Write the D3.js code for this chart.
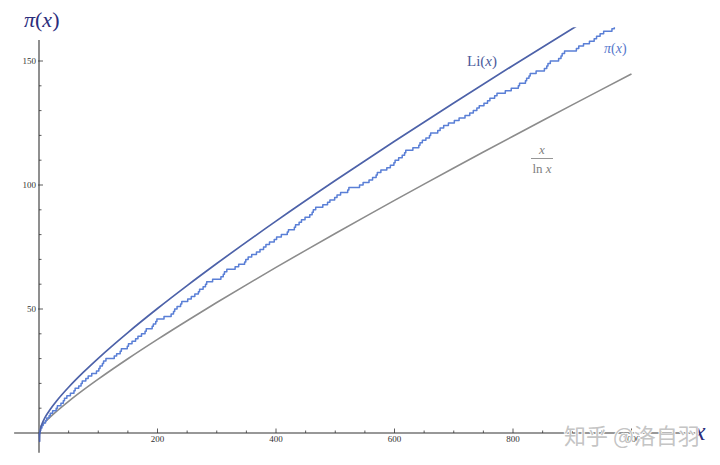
<!DOCTYPE html>
<html>
<head>
<meta charset="utf-8">
<script src="https://cdn.jsdelivr.net/npm/d3@7"></script>
<style>
    html, body { margin: 0; padding: 0; background: #fff; }
    #chart { width: 720px; height: 465px; }
</style>
</head>
<body>
<div id="chart"></div>
<script>
// primes up to 971 -> pi(x) staircase
const primes = [
    2, 3, 5, 7, 11, 13, 17, 19, 23, 29, 31, 37, 41, 43, 47, 53, 59, 61, 67, 71, 73, 79, 83, 89, 97,
    101, 103, 107, 109, 113, 127, 131, 137, 139, 149, 151, 157, 163, 167, 173, 179, 181, 191, 193, 197, 199,
    211, 223, 227, 229, 233, 239, 241, 251, 257, 263, 269, 271, 277, 281, 283, 293,
    307, 311, 313, 317, 331, 337, 347, 349, 353, 359, 367, 373, 379, 383, 389, 397,
    401, 409, 419, 421, 431, 433, 439, 443, 449, 457, 461, 463, 467, 479, 487, 491, 499,
    503, 509, 521, 523, 541, 547, 557, 563, 569, 571, 577, 587, 593, 599,
    601, 607, 613, 617, 619, 631, 641, 643, 647, 653, 659, 661, 673, 677, 683, 691,
    701, 709, 719, 727, 733, 739, 743, 751, 757, 761, 769, 773, 787, 797,
    809, 811, 821, 823, 827, 829, 839, 853, 857, 859, 863, 877, 881, 883, 887,
    907, 911, 919, 929, 937, 941, 947, 953, 967, 971, 977, 983, 991, 997
];

// Li(x) samples
const liX = [0, 0.5, 0.9, 0.95, 0.98, 1.02, 1.05, 1.1, 1.2, 1.5, 2, 3, 5, 10, 20, 30, 50, 75, 100,
             150, 200, 250, 300, 400, 500, 600, 700, 800, 900, 1000];
const liY = [0, -0.38, -1.78, -2.44, -3.34, -3.32, -2.39, -1.68, -0.93, 0.13, 1.05, 2.16, 3.63, 6.17,
             9.91, 13.02, 18.46, 24.53, 30.13, 40.50, 50.19, 59.43, 68.33, 85.42, 101.79, 117.65,
             133.09, 148.20, 163.02, 177.61];

// x / ln x samples
const xlnX = [2, 3, 5, 10, 20, 30, 50, 75, 100, 150, 200, 250, 300, 350, 400, 450, 500, 550, 600,
              650, 700, 750, 800, 850, 900, 950, 1000];
const xlnY = [2.89, 2.73, 3.11, 4.34, 6.68, 8.82, 12.78, 17.37, 21.71, 29.94, 37.75, 45.28, 52.60,
              59.75, 66.76, 73.66, 80.46, 87.16, 93.80, 100.36, 106.85, 113.29, 119.68, 126.02,
              132.31, 138.56, 144.77];

const xTicks = [200, 400, 600, 800, 1000];
const yTicks = [50, 100, 150];

// Specify the chart's dimensions.
const Width = 720, Height = 465;

const svg =
    d3.select("#chart")
        .append("svg")
            .attr("width", Width)
            .attr("height", Height);

const xScale = d3.scaleLinear().domain([0, 1000]).range([39, 631.5]);
const yScale = d3.scaleLinear().domain([0, 150]).range([433, 61]);

const serif = "'Liberation Serif', 'DejaVu Serif', serif";
const axisColor = "#333";

// Axis lines (Mathematica style, through the origin)
svg.append("line")
    .attr("x1", xScale(-42)).attr("x2", xScale(1108))
    .attr("y1", yScale(0)).attr("y2", yScale(0))
    .attr("stroke", axisColor).attr("stroke-width", 1.1);
svg.append("line")
    .attr("x1", xScale(0)).attr("x2", xScale(0))
    .attr("y1", yScale(158.5)).attr("y2", yScale(-8))
    .attr("stroke", axisColor).attr("stroke-width", 1.1);

// Add X axis ticks
const xAxis = svg.append("g").attr("transform", `translate(0, ${yScale(0)})`);
xAxis.selectAll("line.minor")
    .data(d3.range(50, 1101, 50).filter(v => v % 200 !== 0))
    .join("line")
        .attr("x1", d => xScale(d)).attr("x2", d => xScale(d))
        .attr("y1", 0).attr("y2", -2.5)
        .attr("stroke", axisColor).attr("stroke-width", 0.8);
xAxis.selectAll("line.major")
    .data(xTicks)
    .join("line")
        .attr("x1", d => xScale(d)).attr("x2", d => xScale(d))
        .attr("y1", 0).attr("y2", -4.5)
        .attr("stroke", axisColor).attr("stroke-width", 0.8);
xAxis.selectAll("text")
    .data(xTicks)
    .join("text")
        .attr("x", d => xScale(d))
        .attr("y", 9)
        .attr("text-anchor", "middle")
        .attr("font-family", serif)
        .attr("font-size", 9)
        .attr("fill", "#333")
        .text(d => d);

// Add Y axis ticks
const yAxis = svg.append("g").attr("transform", `translate(${xScale(0)}, 0)`);
yAxis.selectAll("line.minor")
    .data(d3.range(10, 160, 10).filter(v => v % 50 !== 0))
    .join("line")
        .attr("x1", 0).attr("x2", 2.5)
        .attr("y1", d => yScale(d)).attr("y2", d => yScale(d))
        .attr("stroke", axisColor).attr("stroke-width", 0.8);
yAxis.selectAll("line.major")
    .data(yTicks)
    .join("line")
        .attr("x1", -1).attr("x2", 4)
        .attr("y1", d => yScale(d)).attr("y2", d => yScale(d))
        .attr("stroke", axisColor).attr("stroke-width", 0.8);
yAxis.selectAll("text")
    .data(yTicks)
    .join("text")
        .attr("x", -3)
        .attr("y", d => yScale(d) + 3)
        .attr("text-anchor", "end")
        .attr("font-family", serif)
        .attr("font-size", 9)
        .attr("fill", "#333")
        .text(d => d);

// Clip to plot range
svg.append("clipPath")
    .attr("id", "plotClip")
    .append("rect")
        .attr("x", 0).attr("width", Width)
        .attr("y", yScale(163.6))
        .attr("height", yScale(-8) - yScale(163.6));

const plot = svg.append("g").attr("clip-path", "url(#plotClip)");

// x / ln x
plot.append("path")
    .datum(xlnX.map((v, i) => [v, xlnY[i]]))
    .attr("fill", "none")
    .attr("stroke", "#8c8c8c")
    .attr("stroke-width", 1.6)
    .attr("d", d3.line().x(d => xScale(d[0])).y(d => yScale(d[1])).curve(d3.curveMonotoneX));

// pi(x) staircase
const piPts = [[0, 0]].concat(primes.map((p, i) => [p, i + 1]));
plot.append("path")
    .datum(piPts)
    .attr("fill", "none")
    .attr("stroke", "#5a7fd6")
    .attr("stroke-width", 1.5)
    .attr("stroke-linejoin", "round")
    .attr("d", d3.line().x(d => xScale(d[0])).y(d => yScale(d[1])).curve(d3.curveStepAfter));

// Li(x)
plot.append("path")
    .datum(liX.map((v, i) => [v, liY[i]]))
    .attr("fill", "none")
    .attr("stroke", "#4d62a9")
    .attr("stroke-width", 1.7)
    .attr("d", d3.line().x(d => xScale(d[0])).y(d => yScale(d[1])).curve(d3.curveMonotoneX));

// Axis labels
const piLabel = svg.append("text")
    .attr("x", 24).attr("y", 27)
    .attr("font-family", serif)
    .attr("font-size", 22)
    .attr("fill", "#2b2d7c");
piLabel.append("tspan").attr("font-style", "italic").text("π");
piLabel.append("tspan").text("(");
piLabel.append("tspan").attr("font-style", "italic").text("x");
piLabel.append("tspan").text(")");

svg.append("text")
    .attr("x", 694).attr("y", 440)
    .attr("font-family", serif)
    .attr("font-style", "italic")
    .attr("font-size", 26)
    .attr("fill", "#2b2d7c")
    .text("x");

// Curve labels
const liLabel = svg.append("text")
    .attr("x", 467).attr("y", 66)
    .attr("font-family", serif)
    .attr("font-size", 15)
    .attr("fill", "#4c5b9c");
liLabel.append("tspan").text("Li(");
liLabel.append("tspan").attr("font-style", "italic").text("x");
liLabel.append("tspan").text(")");

const pLabel = svg.append("text")
    .attr("x", 604).attr("y", 53)
    .attr("font-family", serif)
    .attr("font-size", 14)
    .attr("fill", "#5577cc");
pLabel.append("tspan").attr("font-style", "italic").text("π");
pLabel.append("tspan").text("(");
pLabel.append("tspan").attr("font-style", "italic").text("x");
pLabel.append("tspan").text(")");

const frac = svg.append("g").attr("fill", "#7f7f7f").attr("font-family", serif).attr("font-size", 13);
frac.append("text")
    .attr("x", 542).attr("y", 154)
    .attr("text-anchor", "middle")
    .attr("font-style", "italic")
    .text("x");
frac.append("line")
    .attr("x1", 531).attr("x2", 553)
    .attr("y1", 158.5).attr("y2", 158.5)
    .attr("stroke", "#8a8a8a").attr("stroke-width", 0.9);
const lnx = frac.append("text")
    .attr("x", 542).attr("y", 173)
    .attr("text-anchor", "middle");
lnx.append("tspan").text("ln ");
lnx.append("tspan").attr("font-style", "italic").text("x");

// Watermark
svg.append("text")
    .attr("x", 564).attr("y", 444)
    .attr("font-family", "'Noto Sans CJK SC', sans-serif")
    .attr("font-size", 22)
    .attr("fill", "#bdbdbd")
    .attr("fill-opacity", 0.9)
    .attr("stroke", "#fff")
    .attr("stroke-width", 1.5)
    .attr("paint-order", "stroke")
    .text("知乎 @洛自羽");
</script>
</body>
</html>
